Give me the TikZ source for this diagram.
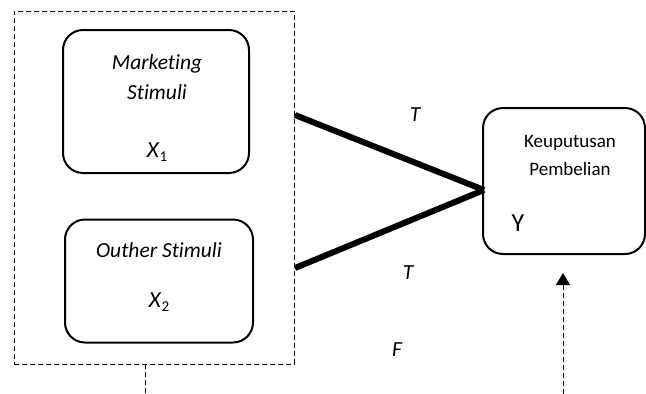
\documentclass[tikz,border=0pt]{standalone}
\usepackage{fontspec}
\setmainfont{Carlito}[Ligatures=CommonOff]
\usetikzlibrary{arrows.meta}
\tikzset{
  rbox/.style={draw, line width=2pt, rounded corners=20pt, inner sep=0pt},
  dashline/.style={draw, line width=0.9pt, dash pattern=on 5pt off 3pt},
  lbl/.style={font=\fontsize{21.5}{30}\selectfont, align=center, inner sep=0pt},
  thick5/.style={line width=6pt},
}
\newcommand{\varsub}[1]{\textit{X}\raisebox{-4pt}{\fontsize{15}{15}\selectfont #1}}
\begin{document}
\begin{tikzpicture}[x=1pt,y=-1pt]
\useasboundingbox (0,0) rectangle (646,394);
% outer dashed box
\node[dashline, minimum width=280pt, minimum height=353pt, inner sep=0pt] (outer) at (154,187.5) {};
\coordinate (stubtop) at (145,364);
\coordinate (stubbot) at (145,394);
\draw[dashline] (stubtop) -- (stubbot);
% boxes
\node[rbox, minimum width=186pt, minimum height=143pt] (b1) at (156,101.5) {};
\node[rbox, minimum width=188pt, minimum height=123pt] (b2) at (159,281) {};
\node[rbox, minimum width=162pt, minimum height=146pt] (y) at (564,181) {};
% texts
\node[lbl] (t1) at (157,77) {\itshape Marketing\\\itshape Stimuli};
\node[lbl, font=\fontsize{23}{23}\selectfont] (x1) at (157,152) {\varsub{1}};
\node[lbl] (t2) at (159,250) {\itshape Outher Stimuli};
\node[lbl, font=\fontsize{23}{23}\selectfont] (x2) at (159,302) {\varsub{2}};
\node[lbl, font=\fontsize{19}{28}\selectfont] (ty) at (570,155) {Keuputusan\\Pembelian};
\node[lbl, font=\fontsize{26}{26}\selectfont] (yy) at (518,223) {Y};
% connectors
\coordinate (a1) at (295,115);
\coordinate (a2) at (295,268);
\coordinate (m) at (484,190);
\draw[thick5] (a1) -- (m);
\draw[thick5] (a2) -- (m);
\fill (m) ++(-7,-6) -- (m) -- ++(-7,6) -- cycle;
\node[lbl] (T1) at (415,115) {\itshape T};
\node[lbl] (T2) at (408,273) {\itshape T};
\node[lbl] (F) at (397,350) {\itshape F};
% dashed arrow
\coordinate (fb) at (563,394);
\coordinate (ft) at (563,273);
\draw[dashline, -{Triangle[length=12pt,width=14pt]}] (fb) -- (ft);
\end{tikzpicture}
\end{document}
